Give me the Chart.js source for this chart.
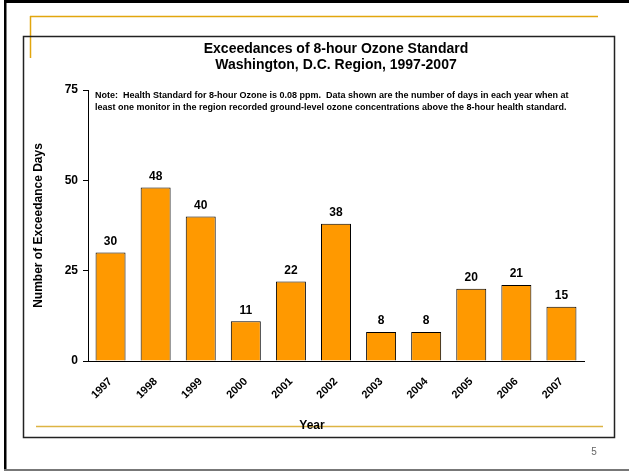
<!DOCTYPE html>
<html>
<head>
<meta charset="utf-8">
<script src="https://cdn.jsdelivr.net/npm/chart.js@4/dist/chart.umd.min.js"></script>
<style>
  html, body { margin: 0; padding: 0; background: #fff; }
  #wrap { width: 629px; height: 471px; }
</style>
</head>
<body>
<div id="wrap"><canvas id="myChart" width="629" height="471"></canvas></div>
<script>
// chart data
const years = ["1997", "1998", "1999", "2000", "2001", "2002", "2003", "2004", "2005", "2006", "2007"];
const exceedanceDays = [30, 48, 40, 11, 22, 38, 8, 8, 20, 21, 15];
const yTicks = [0, 25, 50, 75];
const titleLines = ["Exceedances of 8-hour Ozone Standard", "Washington, D.C. Region, 1997-2007"];
const noteLines = [
  "Note:  Health Standard for 8-hour Ozone is 0.08 ppm.  Data shown are the number of days in each year when at",
  "least one monitor in the region recorded ground-level ozone concentrations above the 8-hour health standard."
];

const FONT = "'Liberation Sans', Arial, sans-serif";

// slide frame, gold rules and the chart box - drawn behind the chart
const slideFrame = {
  id: "slideFrame",
  beforeDraw(chart) {
    const c = chart.ctx;
    c.save();
    c.fillStyle = "#fff";
    c.fillRect(0, 0, chart.width, chart.height);
    // outer slide border
    c.fillStyle = "#000";
    c.fillRect(4, 0, chart.width - 4, 3);
    c.fillRect(4, 0, 2.5, chart.height);
    c.fillStyle = "#777";
    c.fillRect(4, 469, chart.width - 4, 2);
    // gold rules
    c.strokeStyle = "#E2A60E";
    c.lineWidth = 1.5;
    c.beginPath();
    c.moveTo(30, 16.5);
    c.lineTo(598, 16.5);
    c.moveTo(30.5, 16);
    c.lineTo(30.5, 58);
    c.stroke();
    c.strokeStyle = "#DDB443";
    c.beginPath();
    c.moveTo(36, 426.5);
    c.lineTo(603, 426.5);
    c.stroke();
    c.restore();
  },
  beforeDatasetsDraw(chart) {
    // chart box (drawn after the gold rules so it sits on top)
    const c = chart.ctx;
    c.save();
    c.strokeStyle = "#222";
    c.lineWidth = 1.5;
    c.strokeRect(23.5, 36.5, 591, 401);
    c.restore();
  },
  afterDraw(chart) {
    const c = chart.ctx;
    const area = chart.chartArea;
    c.save();
    // value labels over the bars
    c.fillStyle = "#000";
    c.font = "bold 12px " + FONT;
    c.textAlign = "center";
    c.textBaseline = "bottom";
    chart.getDatasetMeta(0).data.forEach((bar, i) => {
      c.fillText(exceedanceDays[i], bar.x, bar.y - 5);
    });
    // note inside the plot
    c.font = "bold 9px " + FONT;
    c.textAlign = "left";
    c.textBaseline = "middle";
    noteLines.forEach((line, i) => {
      c.fillText(line, area.left + 7, area.top + 6 + i * 12);
    });
    // x axis title sits on the gold rule
    c.font = "bold 12px " + FONT;
    c.textAlign = "center";
    c.fillText("Year", 312, 426);
    // page number
    c.fillStyle = "#666";
    c.font = "10px " + FONT;
    c.fillText("5", 594, 452);
    c.restore();
  }
};

const ctx = document.getElementById("myChart").getContext("2d");
const myChart = new Chart(ctx, {
  type: "bar",
  data: {
    labels: years,
    datasets: [
      {
        data: exceedanceDays,
        backgroundColor: "#FF9900",
        borderColor: "#000",
        borderWidth: 1,
        barPercentage: 0.665,
        categoryPercentage: 1.0,
      },
    ],
  },
  options: {
    responsive: false,
    animation: false,
    events: [],
    layout: { padding: { left: 23, right: 45, top: 36, bottom: 40 } },
    plugins: {
      legend: { display: false },
      tooltip: { enabled: false },
      title: {
        display: true,
        fullSize: false,
        text: titleLines,
        color: "#000",
        font: { family: FONT, size: 14, weight: "bold", lineHeight: 1.15 },
        padding: { top: 5, bottom: 16.8 },
      },
    },
    scales: {
      x: {
        grid: { display: false, drawTicks: false },
        border: { color: "#000", width: 1 },
        ticks: {
          color: "#000",
          font: { family: FONT, size: 11, weight: "bold" },
          minRotation: 45,
          maxRotation: 45,
          padding: 14,
        },
        afterFit(scale) { scale.height = 70; },
      },
      y: {
        min: 0,
        max: 75,
        afterBuildTicks(scale) { scale.ticks = yTicks.map((v) => ({ value: v })); },
        grid: { drawOnChartArea: false, drawTicks: true, tickLength: 5, color: "#000" },
        border: { color: "#000", width: 1 },
        ticks: {
          color: "#000",
          font: { family: FONT, size: 12, weight: "bold" },
          padding: 5,
        },
        title: {
          display: true,
          text: "Number of Exceedance Days",
          color: "#000",
          font: { family: FONT, size: 12, weight: "bold" },
          padding: { top: 8, bottom: 0 },
        },
        afterFit(scale) { scale.width = 65; },
      },
    },
  },
  plugins: [slideFrame],
});
</script>
</body>
</html>
